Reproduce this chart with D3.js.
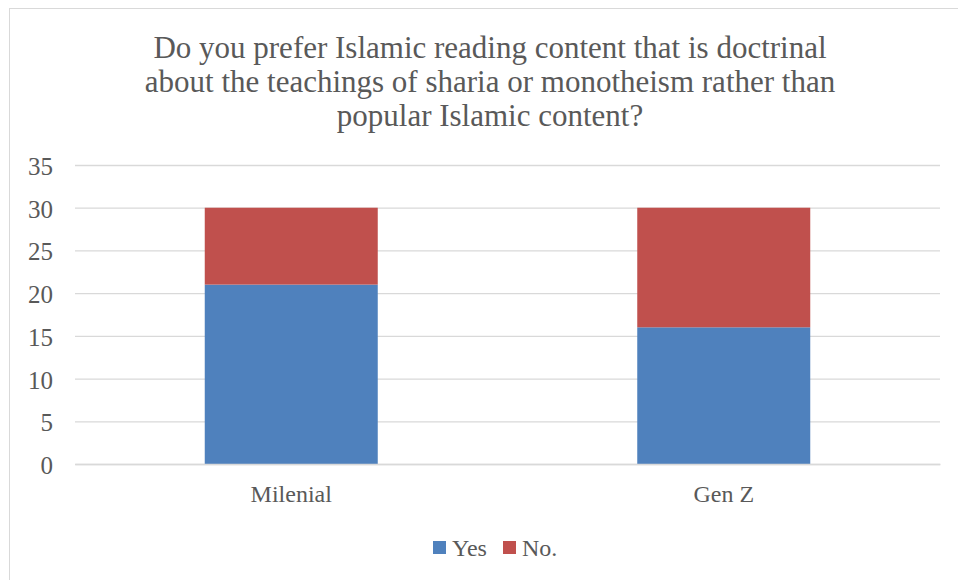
<!DOCTYPE html>
<html>
<head>
<meta charset="utf-8">
<script src="https://cdn.jsdelivr.net/npm/d3@7"></script>
<style>
  html, body { margin: 0; padding: 0; background: #fff; }
  svg { display: block; }
  text { font-family: "Liberation Serif", "DejaVu Serif", serif; fill: #595959; }
</style>
</head>
<body>
<svg id="chart" width="958" height="580"></svg>
<script>
// Survey answers by generation
const categories = ["Milenial", "Gen Z"];
const seriesNames = ["Yes", "No."];
const yesValues = [21, 16];
const noValues = [9, 14];
const yTicks = [0, 5, 10, 15, 20, 25, 30, 35];
const titleLines = [
  "Do you prefer Islamic reading content that is doctrinal",
  "about the teachings of sharia or monotheism rather than",
  "popular Islamic content?"
];
const colors = ["#4f81bd", "#c0504d"];

const FONT = "Liberation Serif, DejaVu Serif, serif";
const svg = d3.select("#chart");
const W = 958, H = 580;

// Chart area frame
svg.append("rect")
  .attr("x", 9.5).attr("y", 8.5)
  .attr("width", W + 10).attr("height", H + 10)
  .attr("fill", "#fff").attr("stroke", "#d9d9d9").attr("stroke-width", 1);

// Title
const title = svg.append("g");
titleLines.forEach((line, i) => {
  title.append("text")
    .attr("x", 490).attr("y", 57.5 + i * 34)
    .attr("text-anchor", "middle")
    .attr("font-size", 31)
    .text(line);
});

const plot = { left: 75, right: 940, top: 165, bottom: 464 };

const x = d3.scaleBand()
  .domain(categories)
  .range([plot.left, plot.right])
  .paddingInner(0.6)
  .paddingOuter(0.3);

const y = d3.scaleLinear()
  .domain([0, 35])
  .range([plot.bottom, plot.top]);

// Gridlines
svg.append("g")
  .attr("transform", `translate(${plot.left},0)`)
  .call(d3.axisLeft(y).tickValues(yTicks).tickSize(-(plot.right - plot.left)).tickFormat(""))
  .call(g => g.select(".domain").remove())
  .call(g => g.selectAll(".tick line").attr("stroke", "#d9d9d9").attr("stroke-width", 1.3));

// Y tick labels
svg.append("g")
  .attr("transform", `translate(53,0)`)
  .call(d3.axisLeft(y).tickValues(yTicks).tickSize(0).tickPadding(0))
  .call(g => g.select(".domain").remove())
  .call(g => g.selectAll(".tick text")
    .attr("font-size", 25).attr("dy", "0.38em").attr("fill", "#595959")
    .attr("font-family", FONT));

// Stacked bars
const rows = categories.map((c, i) => ({ cat: c, Yes: yesValues[i], "No.": noValues[i] }));
const stack = d3.stack().keys(seriesNames)(rows);

svg.append("g").selectAll("g")
  .data(stack)
  .join("g")
  .attr("fill", (d, i) => colors[i])
  .selectAll("rect")
  .data(d => d)
  .join("rect")
  .attr("x", d => x(d.data.cat))
  .attr("width", x.bandwidth())
  .attr("y", d => y(d[1]))
  .attr("height", d => y(d[0]) - y(d[1]));

// Category axis
svg.append("g")
  .attr("transform", `translate(0,${plot.bottom})`)
  .call(d3.axisBottom(x).tickSize(0).tickPadding(21))
  .call(g => g.select(".domain").attr("stroke", "#d9d9d9").attr("stroke-width", 1.3))
  .call(g => g.selectAll(".tick text")
    .attr("font-size", 24).attr("fill", "#595959")
    .attr("font-family", FONT));

// Legend
const legend = svg.append("g");
const legendItems = [
  { name: seriesNames[0], x: 433 },
  { name: seriesNames[1], x: 503 }
];
legendItems.forEach((item, i) => {
  legend.append("rect")
    .attr("x", item.x).attr("y", 541)
    .attr("width", 13).attr("height", 13)
    .attr("fill", colors[i]);
  legend.append("text")
    .attr("x", item.x + 19).attr("y", 556)
    .attr("font-size", 24)
    .text(item.name);
});
</script>
</body>
</html>
